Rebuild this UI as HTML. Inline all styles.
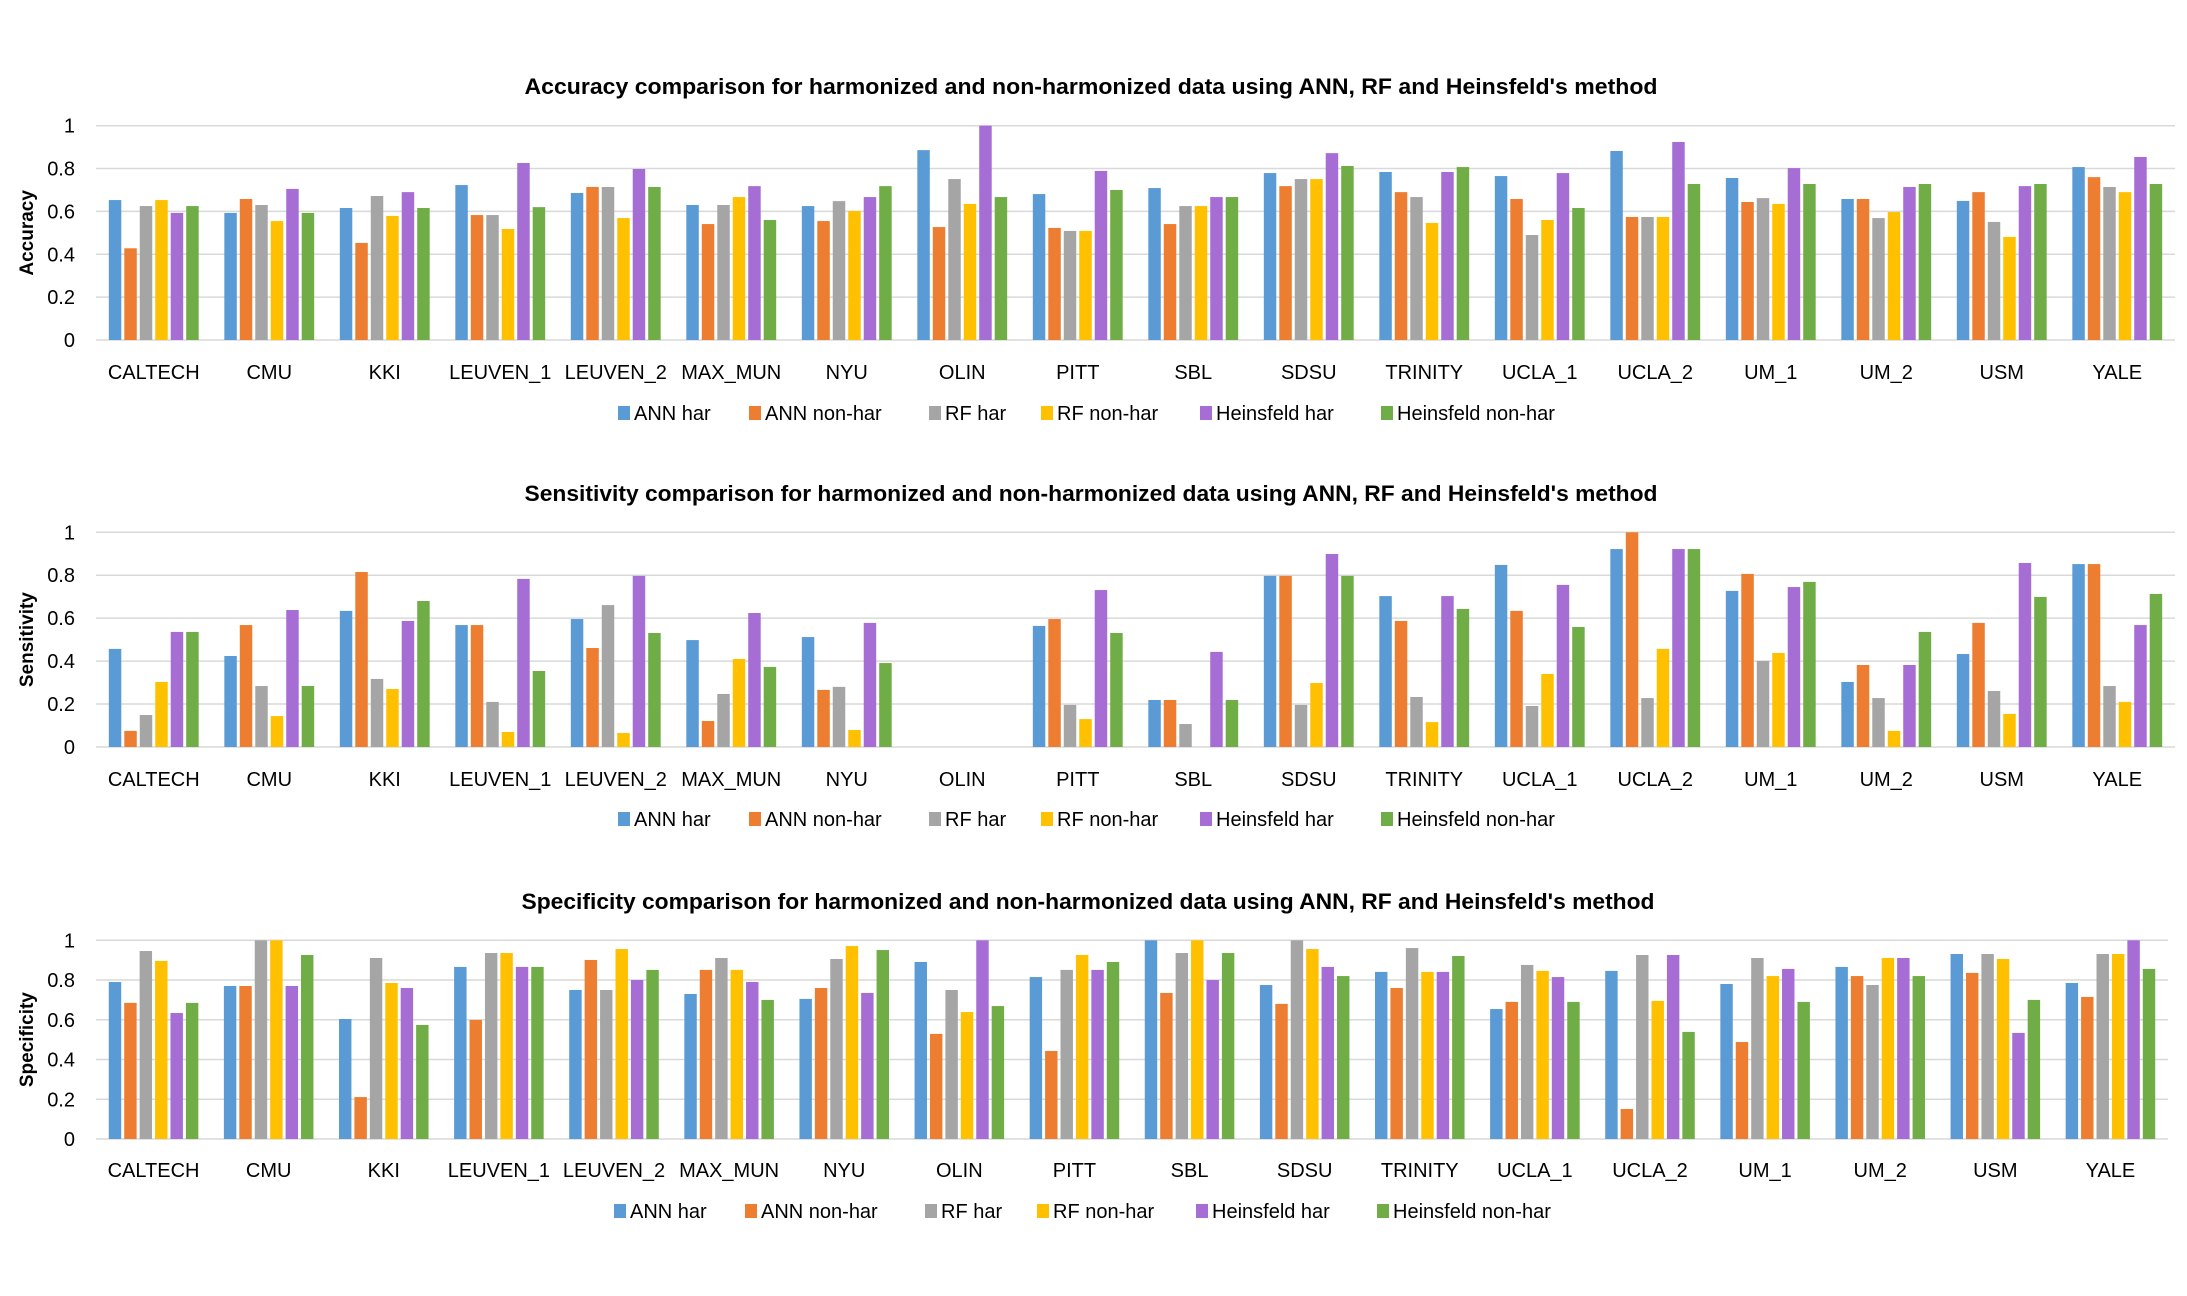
<!DOCTYPE html>
<html><head><meta charset="utf-8"><style>
html,body{margin:0;padding:0;background:#fff;}
svg{display:block;}
text{font-family:"Liberation Sans",sans-serif;fill:#000;}
</style></head><body>
<svg id="root" width="2187" height="1296" viewBox="0 0 2187 1296" xmlns="http://www.w3.org/2000/svg"></svg>
<script>
const categories = ["CALTECH","CMU","KKI","LEUVEN_1","LEUVEN_2","MAX_MUN","NYU","OLIN","PITT","SBL","SDSU","TRINITY","UCLA_1","UCLA_2","UM_1","UM_2","USM","YALE"];
const seriesNames = ["ANN har","ANN non-har","RF har","RF non-har","Heinsfeld har","Heinsfeld non-har"];
const yTicks = [0,0.2,0.4,0.6,0.8,1];
const yTickLabels = ["0","0.2","0.4","0.6","0.8","1"];

const accAnnHar     = [0.653,0.593,0.616,0.723,0.686,0.63,0.625,0.886,0.681,0.709,0.779,0.784,0.765,0.882,0.756,0.658,0.649,0.807];
const accAnnNonHar  = [0.428,0.658,0.453,0.583,0.714,0.541,0.555,0.527,0.523,0.541,0.718,0.69,0.658,0.574,0.644,0.658,0.69,0.76];
const accRfHar      = [0.625,0.63,0.672,0.583,0.714,0.63,0.648,0.751,0.509,0.625,0.751,0.667,0.49,0.574,0.662,0.569,0.551,0.714];
const accRfNonHar   = [0.653,0.555,0.579,0.518,0.569,0.667,0.602,0.635,0.509,0.625,0.751,0.546,0.56,0.574,0.635,0.597,0.481,0.69];
const accHeinHar    = [0.593,0.705,0.69,0.826,0.798,0.718,0.667,1.0,0.789,0.667,0.872,0.784,0.779,0.924,0.802,0.714,0.718,0.854];
const accHeinNonHar = [0.625,0.593,0.616,0.62,0.714,0.56,0.718,0.667,0.70,0.667,0.812,0.807,0.616,0.728,0.728,0.728,0.728,0.728];

const senAnnHar     = [0.457,0.424,0.634,0.568,0.596,0.498,0.512,0,0.564,0.219,0.797,0.703,0.848,0.922,0.727,0.303,0.433,0.852];
const senAnnNonHar  = [0.075,0.568,0.815,0.568,0.461,0.121,0.266,0,0.596,0.219,0.797,0.587,0.634,1.0,0.806,0.382,0.578,0.852];
const senRfHar      = [0.149,0.284,0.317,0.21,0.661,0.247,0.28,0,0.196,0.107,0.196,0.233,0.191,0.228,0.401,0.228,0.261,0.284];
const senRfNonHar   = [0.303,0.144,0.27,0.07,0.065,0.41,0.079,0,0.13,0,0.298,0.116,0.34,0.457,0.438,0.075,0.154,0.21];
const senHeinHar    = [0.536,0.638,0.587,0.783,0.797,0.624,0.578,0,0.731,0.443,0.899,0.703,0.755,0.922,0.745,0.382,0.857,0.568];
const senHeinNonHar = [0.536,0.284,0.68,0.354,0.531,0.373,0.391,0,0.531,0.219,0.797,0.643,0.559,0.922,0.769,0.536,0.699,0.713];

const speAnnHar     = [0.79,0.77,0.604,0.866,0.75,0.73,0.705,0.891,0.815,1.0,0.775,0.841,0.654,0.846,0.78,0.866,0.931,0.785];
const speAnnNonHar  = [0.685,0.77,0.211,0.599,0.901,0.851,0.76,0.529,0.443,0.735,0.68,0.76,0.69,0.151,0.488,0.82,0.836,0.715];
const speRfHar      = [0.946,1.0,0.911,0.936,0.75,0.911,0.906,0.75,0.851,0.936,1.0,0.961,0.876,0.926,0.911,0.775,0.931,0.931];
const speRfNonHar   = [0.896,1.0,0.785,0.936,0.956,0.851,0.971,0.639,0.926,1.0,0.956,0.841,0.846,0.695,0.82,0.911,0.906,0.931];
const speHeinHar    = [0.634,0.77,0.76,0.866,0.8,0.79,0.735,1.0,0.851,0.8,0.866,0.841,0.815,0.926,0.856,0.911,0.534,1.0];
const speHeinNonHar = [0.685,0.926,0.574,0.866,0.851,0.7,0.951,0.669,0.891,0.936,0.82,0.921,0.69,0.539,0.69,0.82,0.7,0.856];

const colors = ["#5B9BD5","#ED7D31","#A5A5A5","#FFC000","#A66DD4","#70AD47"];
const NS = "http://www.w3.org/2000/svg";
const root = document.getElementById("root");

function mk(tag, attrs, parent, txt){
  const e = document.createElementNS(NS, tag);
  for (const k in attrs) e.setAttribute(k, attrs[k]);
  if (txt !== undefined) e.textContent = txt;
  parent.appendChild(e);
  return e;
}

function drawChart(cfg){
  const g = mk("g", {}, root);
  
  
  const yScale = v => cfg.y0 + (cfg.y1 - cfg.y0) * v;
  const catW = (cfg.right - cfg.left) / categories.length;
  const xCat = i => cfg.left + i * catW;

  const t = mk("text", {x: cfg.titleX, y: cfg.titleY, "text-anchor": "middle", "font-size": 22, "font-weight": "bold", textLength: 1133, lengthAdjust: "spacingAndGlyphs"}, g, cfg.title);
  
  

  yTicks.forEach((v, i) => {
    const yy = yScale(v);
    const ln = mk("line", {x1: cfg.left, x2: cfg.right, y1: yy, y2: yy, stroke: "#d9d9d9", "stroke-width": 1.5}, g);
    
    
    const tl = mk("text", {x: 75, y: yy + 7, "text-anchor": "end", "font-size": 20}, g, yTickLabels[i]);
    
    
  });

  const yt = mk("text", {x: 0, y: 0, "text-anchor": "middle", "font-size": 19, "font-weight": "bold", transform: `translate(33,${(cfg.y0+cfg.y1)/2}) rotate(-90)`}, g, cfg.yTitle);
  
  

  const pitch = catW * 0.134, bw = catW * 0.108;
  const groupW = pitch * 5 + bw;
  cfg.series.forEach((vals, s) => {
    vals.forEach((v, i) => {
      const x = xCat(i) + (catW - groupW) / 2 + s * pitch;
      const top = yScale(v);
      if (v <= 0) return;
      const r = mk("rect", {x: x, y: top, width: bw, height: cfg.y0 - top, fill: colors[s]}, g);
      
      
    });
  });

  categories.forEach((c, i) => {
    const ct = mk("text", {x: xCat(i) + catW / 2, y: cfg.catY, "text-anchor": "middle", "font-size": 20}, g, c);
    
    
  });

  const legX = [618, 749, 929, 1041, 1200, 1381];
  seriesNames.forEach((n, s) => {
    const lx = legX[s] + cfg.legShift;
    const sq = mk("rect", {x: lx, y: cfg.legY - 14, width: 12, height: 14, fill: colors[s]}, g);
    
    
    const lt = mk("text", {x: lx + 16, y: cfg.legY, "font-size": 20}, g, n);
    
    
  });
}

drawChart({key: "accuracy", title: "Accuracy comparison for harmonized and non-harmonized data using ANN, RF and Heinsfeld's method",
  yTitle: "Accuracy", titleX: 1091, titleY: 94, y0: 340, y1: 125.7, left: 96, right: 2175, catY: 379, legY: 420, legShift: 0,
  series: [accAnnHar, accAnnNonHar, accRfHar, accRfNonHar, accHeinHar, accHeinNonHar]});
drawChart({key: "sensitivity", title: "Sensitivity comparison for harmonized and non-harmonized data using ANN, RF and Heinsfeld's method",
  yTitle: "Sensitivity", titleX: 1091, titleY: 501, y0: 747, y1: 532.3, left: 96, right: 2175, catY: 786, legY: 826, legShift: 0,
  series: [senAnnHar, senAnnNonHar, senRfHar, senRfNonHar, senHeinHar, senHeinNonHar]});
drawChart({key: "specificity", title: "Specificity comparison for harmonized and non-harmonized data using ANN, RF and Heinsfeld's method",
  yTitle: "Specificity", titleX: 1088, titleY: 909, y0: 1139, y1: 940.3, left: 96, right: 2168, catY: 1177, legY: 1218, legShift: -4,
  series: [speAnnHar, speAnnNonHar, speRfHar, speRfNonHar, speHeinHar, speHeinNonHar]});
</script>
</body></html>
